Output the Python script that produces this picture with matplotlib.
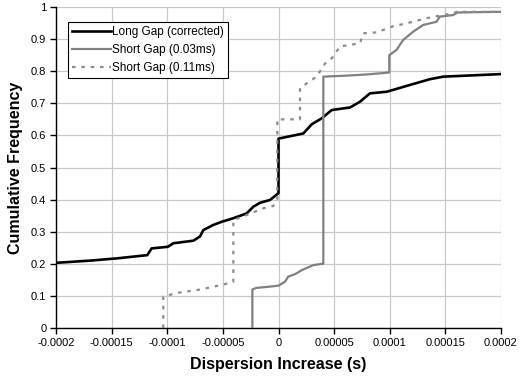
import matplotlib.pyplot as plt

# values
long_x = [-0.0002, -0.000169, -0.000145, -0.000118, -0.000114, -0.0000995, -0.0000945,
          -0.0000765, -0.0000706, -0.0000676, -0.0000586, -0.000051, -0.0000406,
          -0.0000286, -0.0000226, -0.0000166, -0.0000076, 0.0, 0.0, 0.0000223,
          0.00003, 0.0000388, 0.0000478, 0.0000643, 0.0000733, 0.0000822, 0.0000973,
          0.000115, 0.000136, 0.000148, 0.0002]
long_y = [0.203, 0.21, 0.217, 0.227, 0.248, 0.253, 0.264, 0.272, 0.285, 0.305, 0.321,
          0.331, 0.342, 0.357, 0.378, 0.39, 0.399, 0.42, 0.59, 0.606, 0.635, 0.653,
          0.679, 0.687, 0.705, 0.731, 0.736, 0.754, 0.775, 0.783, 0.791]

short03_x = [-0.0000235, -0.0000235, -0.00002, -0.00001, 0.0, 0.0000058, 0.0000088,
             0.000015, 0.0000208, 0.0000313, 0.0000398, 0.0000403, 0.0000403, 0.00006,
             0.00008, 0.0000996, 0.0000996, 0.000106, 0.000112, 0.000121, 0.00013,
             0.000142, 0.000145, 0.000157, 0.000161, 0.0002]
short03_y = [0.0, 0.12, 0.125, 0.128, 0.132, 0.144, 0.16, 0.168, 0.18, 0.196, 0.2, 0.2,
             0.783, 0.786, 0.79, 0.796, 0.85, 0.866, 0.897, 0.923, 0.944, 0.954, 0.97,
             0.975, 0.983, 0.985]

short11_x = [-0.0001036, -0.0001036, -0.00009, -0.00007, -0.00005, -0.0000406, -0.0000406,
             -0.00003, -0.0000137, -0.0000047, -0.0000011, -0.0000011, 0.0000193,
             0.0000193, 0.0000253, 0.0000343, 0.0000418, 0.0000478, 0.0000553, 0.0000733,
             0.000076, 0.0000883, 0.000103, 0.000115, 0.000133, 0.000145, 0.000157,
             0.00016, 0.0002]
short11_y = [0.0, 0.098, 0.11, 0.12, 0.135, 0.144, 0.336, 0.35, 0.373, 0.38, 0.40, 0.65,
             0.65, 0.747, 0.762, 0.783, 0.824, 0.84, 0.877, 0.887, 0.918, 0.921, 0.94,
             0.949, 0.965, 0.973, 0.98, 0.985, 0.985]

x_ticks = [-0.0002, -0.00015, -0.0001, -0.00005, 0, 0.00005, 0.0001, 0.00015, 0.0002]
x_labels = ["-0.0002", "-0.00015", "-0.0001", "-0.00005", "0", "0.00005", "0.0001",
            "0.00015", "0.0002"]
y_ticks = [0, 0.1, 0.2, 0.3, 0.4, 0.5, 0.6, 0.7, 0.8, 0.9, 1]
y_labels = ["0", "0.1", "0.2", "0.3", "0.4", "0.5", "0.6", "0.7", "0.8", "0.9", "1"]

plt.rcParams["font.family"] = ["Liberation Sans", "DejaVu Sans"]

fig = plt.figure(figsize=(5.19, 3.81), dpi=100)
ax = fig.add_axes([56 / 519, 1 - 328 / 381, 445 / 519, 321 / 381])

ax.plot(long_x, long_y, color="black", lw=1.9, label="Long Gap (corrected)", zorder=3)
ax.plot(short03_x, short03_y, color="#808080", lw=1.6, label="Short Gap (0.03ms)", zorder=3)
ax.plot(short11_x, short11_y, color="#8c8c8c", lw=1.6, linestyle=(0, (1.6, 2.6)),
        label="Short Gap (0.11ms)", zorder=3)

ax.set_xlim(-0.0002, 0.0002)
ax.set_ylim(0, 1)
ax.set_xticks(x_ticks)
ax.set_xticklabels(x_labels)
ax.set_yticks(y_ticks)
ax.set_yticklabels(y_labels)
ax.tick_params(direction="out", length=4, width=1, labelsize=8, colors="black", pad=3)
ax.grid(True, color="#c8c8c8", lw=0.9)
ax.set_axisbelow(True)
for s in ["top", "right"]:
    ax.spines[s].set_visible(False)
for s in ["left", "bottom"]:
    ax.spines[s].set_linewidth(1)

ax.set_xlabel("Dispersion Increase (s)", fontsize=11.5, fontweight="bold", labelpad=7)
ax.set_ylabel("Cumulative Frequency", fontsize=11.5, fontweight="bold", labelpad=6)

leg = ax.legend(loc="upper left", bbox_to_anchor=(0.027, 0.953), fontsize=8.5,
                frameon=True, fancybox=False, framealpha=1, edgecolor="black",
                borderpad=0.35, labelspacing=0.5, handlelength=3.3, handletextpad=0.1,
                borderaxespad=0)
leg.get_frame().set_linewidth(0.8)

plt.savefig("out.png", dpi=100)
plt.close()
